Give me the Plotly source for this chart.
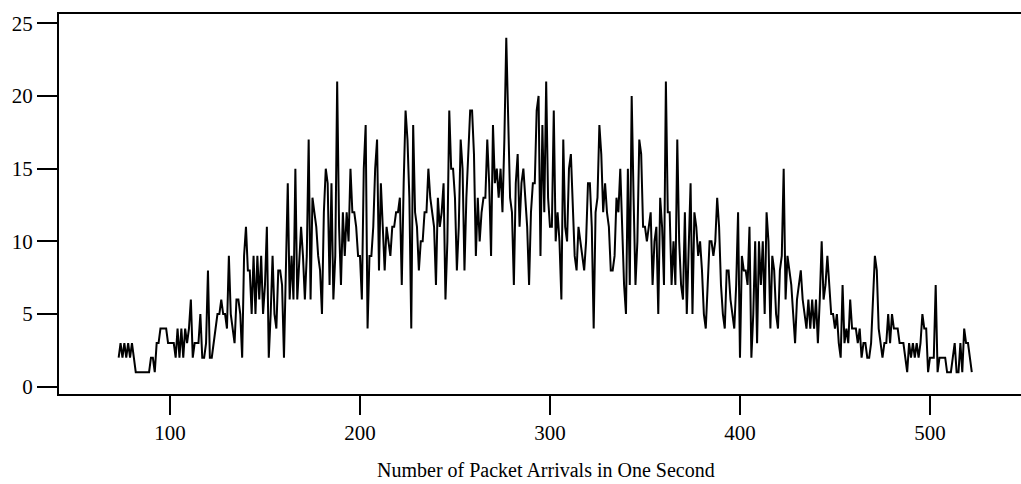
import plotly.graph_objects as go

arrivals = list(range(73, 523))
frequency = [
    2, 3, 2, 3, 2, 3, 2, 3, 2, 1,
    1, 1, 1, 1, 1, 1, 1, 2, 2, 1,
    3, 3, 4, 4, 4, 4, 3, 3, 3, 3,
    2, 4, 2, 4, 2, 4, 3, 4, 6, 2,
    3, 3, 3, 5, 2, 2, 3, 8, 2, 2,
    3, 4, 5, 5, 6, 5, 5, 4, 9, 5,
    4, 3, 6, 6, 5, 2, 9, 11, 8, 8,
    5, 9, 5, 9, 6, 9, 5, 7, 11, 2,
    5, 9, 5, 4, 8, 8, 7, 2, 8, 14,
    6, 9, 6, 15, 6, 9, 11, 9, 6, 9,
    17, 6, 13, 12, 11, 9, 8, 5, 12, 15,
    14, 7, 14, 6, 9, 21, 11, 7, 12, 9,
    12, 10, 15, 12, 12, 11, 9, 9, 6, 15,
    18, 4, 9, 9, 11, 15, 17, 8, 14, 11,
    8, 11, 10, 9, 11, 11, 12, 12, 13, 7,
    14, 19, 17, 13, 4, 18, 12, 11, 8, 10,
    10, 12, 12, 15, 13, 12, 11, 7, 13, 11,
    12, 14, 6, 10, 19, 15, 15, 13, 8, 11,
    17, 15, 8, 13, 16, 19, 19, 16, 9, 13,
    10, 12, 13, 13, 17, 14, 9, 18, 14, 15,
    13, 15, 12, 17, 24, 18, 13, 12, 7, 14,
    16, 11, 14, 15, 13, 11, 7, 12, 14, 14,
    19, 20, 9, 18, 12, 21, 13, 11, 11, 19,
    10, 12, 10, 6, 17, 11, 10, 15, 16, 12,
    9, 8, 11, 10, 9, 8, 10, 14, 14, 11,
    4, 12, 13, 18, 16, 12, 14, 12, 11, 8,
    8, 9, 13, 12, 15, 11, 7, 5, 15, 7,
    20, 13, 7, 10, 17, 16, 11, 11, 10, 11,
    12, 7, 10, 11, 5, 13, 11, 7, 21, 12,
    12, 7, 10, 7, 17, 10, 7, 6, 12, 5,
    10, 14, 5, 12, 11, 9, 10, 8, 5, 4,
    7, 10, 10, 9, 10, 13, 11, 7, 5, 4,
    8, 8, 6, 5, 4, 7, 12, 2, 9, 8,
    8, 7, 11, 2, 5, 10, 3, 10, 7, 10,
    5, 12, 10, 4, 9, 8, 5, 4, 8, 9,
    15, 6, 9, 8, 7, 5, 3, 6, 7, 8,
    6, 5, 4, 6, 4, 6, 4, 6, 3, 6,
    10, 6, 7, 9, 7, 5, 5, 4, 5, 3,
    2, 7, 3, 4, 3, 6, 4, 4, 4, 3,
    4, 2, 3, 3, 2, 2, 3, 6, 9, 8,
    4, 3, 2, 3, 3, 5, 3, 5, 4, 4,
    4, 3, 3, 3, 2, 1, 3, 2, 3, 2,
    3, 2, 3, 5, 4, 4, 1, 2, 2, 2,
    7, 1, 2, 2, 2, 2, 1, 1, 1, 2,
    3, 1, 1, 3, 1, 4, 3, 3, 2, 1,
]
x_ticks = [100, 200, 300, 400, 500]
y_ticks = [0, 5, 10, 15, 20, 25]
x_title = "Number of Packet Arrivals in One Second"

fig = go.Figure(go.Scatter(x=arrivals, y=frequency, mode="lines",
                           line=dict(color="black", width=2),
                           hoverinfo="skip"))

fig.update_layout(
    width=1021, height=484,
    margin=dict(l=59, r=0, t=14, b=90),
    plot_bgcolor="white", paper_bgcolor="white",
    showlegend=False,
    font=dict(family="Liberation Serif", size=21, color="black"),
)
fig.update_xaxes(range=[41.6, 547.9], tickvals=x_ticks, ticks="outside",
                 ticklen=19, tickwidth=1.5, tickcolor="black",
                 showline=True, linewidth=2, linecolor="black", mirror=True,
                 showgrid=False, zeroline=False)
fig.update_yaxes(range=[-0.5, 25.64], tickvals=y_ticks, ticks="outside",
                 ticklen=20, tickwidth=2, tickcolor="black",
                 showline=True, linewidth=2, linecolor="black",
                 showgrid=False, zeroline=False)
fig.add_annotation(text=x_title, xref="paper", x=0.506, yref="paper", y=-0.2,
                   xanchor="center", yanchor="middle", showarrow=False,
                   font=dict(family="Liberation Serif", size=20, color="black"))

fig.write_html("out.html")
